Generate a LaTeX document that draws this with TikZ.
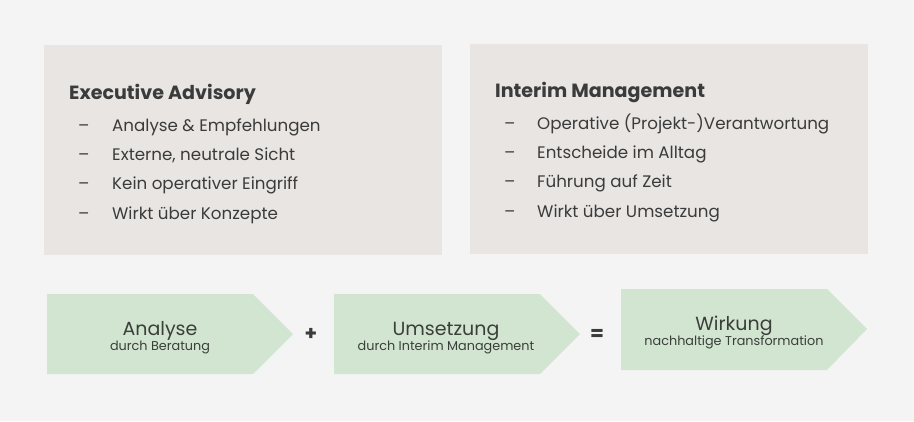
\documentclass[tikz,border=0pt]{standalone}
\usepackage{fontspec}
\setmainfont{Poppins}
\usetikzlibrary{positioning}
\definecolor{bggray}{HTML}{F4F4F4}
\definecolor{panelgray}{HTML}{E8E5E3}
\definecolor{stepgreen}{HTML}{D2E5D1}
\definecolor{textgray}{HTML}{3B3B3B}
\definecolor{steptext}{HTML}{3A3F3A}

\begin{document}
\begin{tikzpicture}[x=1pt,y=-1pt,
    panel/.style={fill=panelgray,anchor=north west,minimum width=398pt,minimum height=210pt,inner sep=0pt},
    heading/.style={anchor=base west,inner sep=0pt,text=textgray,font=\fontsize{19.1}{22}\selectfont\bfseries},
    item/.style={anchor=base west,inner sep=0pt,text=textgray,font=\fontsize{16.7}{20}\selectfont},
    bigtext/.style={anchor=base,inner sep=0pt,text=steptext,font=\fontsize{19}{22}\selectfont},
    smalltext/.style={anchor=base,inner sep=0pt,text=steptext,font=\fontsize{12.8}{15}\selectfont},
    op/.style={inner sep=0pt,text=textgray,font=\fontsize{20}{22}\selectfont\bfseries}]

    \fill[bggray] (0,0) rectangle (914,421);
    \useasboundingbox (0,0) rectangle (914,421);

    \node[panel] (advisory) at (44,45) {};
    \node[panel] (interim) at (470,44) {};

    \node[heading] (advtitle) at (69,99) {Executive Advisory};
    \node[item] (adv1) at (78,131) {\makebox[34pt][l]{–}Analyse \& Empfehlungen};
    \node[item] (adv2) at (78,160) {\makebox[34pt][l]{–}Externe, neutrale Sicht};
    \node[item] (adv3) at (78,189) {\makebox[34pt][l]{–}Kein operativer Eingriff};
    \node[item] (adv4) at (78,219) {\makebox[34pt][l]{–}Wirkt über Konzepte};

    \node[heading] (inttitle) at (495,97) {Interim Management};
    \node[item] (int1) at (504,129) {\makebox[33pt][l]{–}Operative (Projekt-)Verantwortung};
    \node[item] (int2) at (504,158) {\makebox[33pt][l]{–}Entscheide im Alltag};
    \node[item] (int3) at (504,187) {\makebox[33pt][l]{–}Führung auf Zeit};
    \node[item] (int4) at (504,217) {\makebox[33pt][l]{–}Wirkt über Umsetzung};

    % chevrons
    \fill[stepgreen] (47,294) -- (253,294) -- (293,334) -- (253,374) -- (47,374) -- cycle;
    \fill[stepgreen] (334,294) -- (540,294) -- (580,334) -- (540,374) -- (334,374) -- cycle;
    \fill[stepgreen] (621,289) -- (827,289) -- (867,329) -- (827,370) -- (621,370) -- cycle;

    \node[bigtext] (analyse) at (160,335) {Analyse};
    \node[smalltext] (analysesub) at (160,350) {durch Beratung};
    \node[op] (plus) at (311,334) {+};
    \node[bigtext] (umsetzung) at (446,335) {Umsetzung};
    \node[smalltext] (umsetzungsub) at (446,350) {durch Interim Management};
    \node[op] (equals) at (597,335) {=};
    \node[bigtext] (wirkung) at (734,330) {Wirkung};
    \node[smalltext] (wirkungsub) at (734,345) {nachhaltige Transformation};
\end{tikzpicture}
\end{document}
